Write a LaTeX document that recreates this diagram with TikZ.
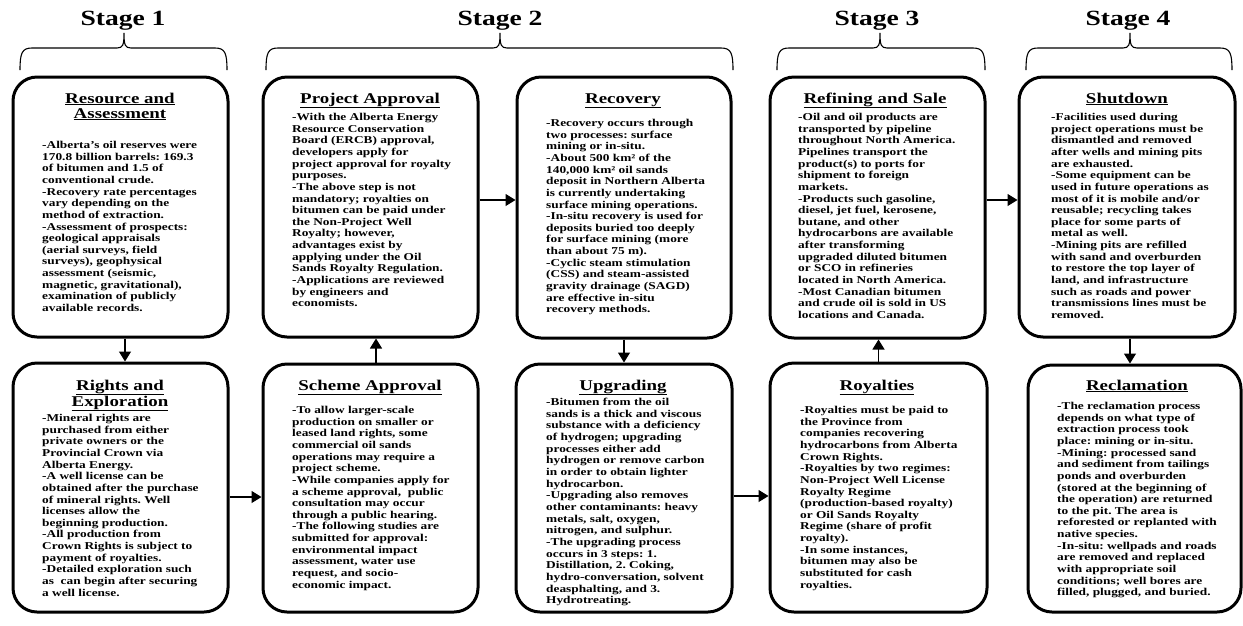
\documentclass[tikz,border=0pt]{standalone}
\usepackage{fontspec}
\setmainfont{Liberation Serif}[FakeStretch=1.27]
\usetikzlibrary{arrows.meta}
\frenchspacing
\tikzset{
 box/.style={draw, line width=3pt, rounded corners=24pt, inner sep=0pt, fill=white},
 ttl/.style={font=\fontsize{14.9}{15.5}\selectfont\bfseries, inner sep=0pt, anchor=base},
 body/.style={font=\fontsize{10.5}{11.65}\selectfont\bfseries\frenchspacing, align=left, inner sep=0pt, anchor=north west},
 stg/.style={font=\fontsize{21.7}{24}\selectfont\bfseries, inner sep=0pt, anchor=base},
 arr/.style={line width=1.2pt, -{Triangle[width=12pt,length=10pt]}},
 brc/.style={line width=1.1pt}
}
\newcommand\mybrace[3]{\draw[brc] (#1,70) .. controls (#1,53) and (#1+2,48) .. (#1+12,48) -- (#2-7,48) .. controls (#2-1,48) and (#2,45) .. (#2,33) .. controls (#2,45) and (#2+1,48) .. (#2+7,48) -- (#3-12,48) .. controls (#3-2,48) and (#3,53) .. (#3,70);}
\begin{document}
\begin{tikzpicture}[x=1pt,y=-1pt]
\useasboundingbox (0,0) rectangle (1243,625);
\fill[white] (0,0) rectangle (1243,625);
% stage labels and braces
\node[stg] (s1) at (123,25) {Stage 1};
\node[stg] (s2) at (500,25) {Stage 2};
\node[stg] (s3) at (877,25) {Stage 3};
\node[stg] (s4) at (1128,25) {Stage 4};
\mybrace{20}{124}{227}
\mybrace{266}{500}{733}
\mybrace{777}{880}{985}
\mybrace{1026}{1130}{1232}
% boxes
\node[box, minimum width=215pt, minimum height=260pt] (b1) at (120.5,207) {};
\node[box, minimum width=215pt, minimum height=249pt] (b2) at (120.5,487.5) {};
\node[box, minimum width=215pt, minimum height=260pt] (b3) at (370.5,207) {};
\node[box, minimum width=215pt, minimum height=248pt] (b4) at (370.5,488) {};
\node[box, minimum width=214pt, minimum height=261pt] (b5) at (624,207.5) {};
\node[box, minimum width=216pt, minimum height=248pt] (b6) at (624,488) {};
\node[box, minimum width=215pt, minimum height=261pt] (b7) at (877.5,207.5) {};
\node[box, minimum width=217pt, minimum height=249pt] (b8) at (878.5,487.5) {};
\node[box, minimum width=216pt, minimum height=260pt] (b9) at (1127,207) {};
\node[box, minimum width=213pt, minimum height=247pt] (b10) at (1134.5,488.5) {};
% titles
\node[ttl] (t1a) at (120,103) {\underline{Resource and}};
\node[ttl] (t1b) at (120,118) {\underline{Assessment}};
\node[ttl] (t2a) at (120,390) {\underline{Rights and}};
\node[ttl] (t2b) at (120,406) {\underline{Exploration}};
\node[ttl] (t3) at (370,103) {\underline{Project Approval}};
\node[ttl] (t4) at (370,390) {\underline{Scheme Approval}};
\node[ttl] (t5) at (623,103) {\underline{Recovery}};
\node[ttl] (t6) at (623,390) {\underline{Upgrading}};
\node[ttl] (t7) at (875,103) {\underline{Refining and Sale}};
\node[ttl] (t8) at (877,390) {\underline{Royalties}};
\node[ttl] (t9) at (1127,103) {\underline{Shutdown}};
\node[ttl] (t10) at (1137,390) {\underline{Reclamation}};
% bodies
\node[body] (d1) at (42,141) {-Alberta's oil reserves were\\170.8 billion barrels: 169.3\\of bitumen and 1.5 of\\conventional crude.\\-Recovery rate percentages\\vary depending on the\\method of extraction.\\-Assessment of prospects:\\geological appraisals\\(aerial surveys, field\\surveys), geophysical\\assessment (seismic,\\magnetic, gravitational),\\examination of publicly\\available records.};
\node[body] (d2) at (42,414) {-Mineral rights are\\purchased from either\\private owners or the\\Provincial Crown via\\Alberta Energy.\\-A well license can be\\obtained after the purchase\\of mineral rights. Well\\licenses allow the\\beginning production.\\-All production from\\Crown Rights is subject to\\payment of royalties.\\-Detailed exploration such\\as~ can begin after securing\\a well license.};
\node[body] (d3) at (292,113) {-With the Alberta Energy\\Resource Conservation\\Board (ERCB) approval,\\developers apply for\\project approval for royalty\\purposes.\\-The above step is not\\mandatory; royalties on\\bitumen can be paid under\\the Non-Project Well\\Royalty; however,\\advantages exist by\\applying under the Oil\\Sands Royalty Regulation.\\-Applications are reviewed\\by engineers and\\economists.};
\node[body] (d4) at (292,406) {-To allow larger-scale\\production on smaller or\\leased land rights, some\\commercial oil sands\\operations may require a\\project scheme.\\-While companies apply for\\a scheme approval,~ public\\consultation may occur\\through a public hearing.\\-The following studies are\\submitted for approval:\\environmental impact\\assessment, water use\\request, and socio-\\economic impact.};
\node[body] (d5) at (546,119) {-Recovery occurs through\\two processes: surface\\mining or in-situ.\\-About 500 km² of the\\140,000 km² oil sands\\deposit in Northern Alberta\\is currently undertaking\\surface mining operations.\\-In-situ recovery is used for\\deposits buried too deeply\\for surface mining (more\\than about 75 m).\\-Cyclic steam stimulation\\(CSS) and steam-assisted\\gravity drainage (SAGD)\\are effective in-situ\\recovery methods.};
\node[body] (d6) at (546,398) {-Bitumen from the oil\\sands is a thick and viscous\\substance with a deficiency\\of hydrogen; upgrading\\processes either add\\hydrogen or remove carbon\\in order to obtain lighter\\hydrocarbon.\\-Upgrading also removes\\other contaminants: heavy\\metals, salt, oxygen,\\nitrogen, and sulphur.\\-The upgrading process\\occurs in 3 steps: 1.\\Distillation, 2. Coking,\\hydro-conversation, solvent\\deasphalting, and 3.\\Hydrotreating.};
\node[body] (d7) at (798,113) {-Oil and oil products are\\transported by pipeline\\throughout North America.\\Pipelines transport the\\product(s) to ports for\\shipment to foreign\\markets.\\-Products such gasoline,\\diesel, jet fuel, kerosene,\\butane, and other\\hydrocarbons are available\\after transforming\\upgraded diluted bitumen\\or SCO in refineries\\located in North America.\\-Most Canadian bitumen\\and crude oil is sold in US\\locations and Canada.};
\node[body] (d8) at (800,406) {-Royalties must be paid to\\the Province from\\companies recovering\\hydrocarbons from Alberta\\Crown Rights.\\-Royalties by two regimes:\\Non-Project Well License\\Royalty Regime\\(production-based royalty)\\or Oil Sands Royalty\\Regime (share of profit\\royalty).\\-In some instances,\\bitumen may also be\\substituted for cash\\royalties.};
\node[body] (d9) at (1051,113) {-Facilities used during\\project operations must be\\dismantled and removed\\after wells and mining pits\\are exhausted.\\-Some equipment can be\\used in future operations as\\most of it is mobile and/or\\reusable; recycling takes\\place for some parts of\\metal as well.\\-Mining pits are refilled\\with sand and overburden\\to restore the top layer of\\land, and infrastructure\\such as roads and power\\transmissions lines must be\\removed.};
\node[body] (d10) at (1057,402) {-The reclamation process\\depends on what type of\\extraction process took\\place: mining or in-situ.\\-Mining: processed sand\\and sediment from tailings\\ponds and overburden\\(stored at the beginning of\\the operation) are returned\\to the pit. The area is\\reforested or replanted with\\native species.\\-In-situ: wellpads and roads\\are removed and replaced\\with appropriate soil\\conditions; well bores are\\filled, plugged, and buried.};
% connectors
\draw[arr] ([xshift=4.5pt]b1.south) -- ([xshift=4.5pt]b1.south |- b2.north);
\draw[arr] ([yshift=-9.5pt]b2.east) -- ([yshift=-9.5pt]b2.east -| b4.west);
\draw[arr] ([xshift=5.5pt]b4.north) -- ([xshift=5.5pt]b4.north |- b3.south);
\draw[arr] ([yshift=7pt]b3.east) -- ([yshift=7pt]b3.east -| b5.west);
\draw[arr] (b5.south) -- (b5.south |- b6.north);
\draw[arr] ([yshift=-8pt]b6.east) -- ([yshift=-8pt]b6.east -| b8.west);
\draw[arr] (b8.north) -- (b8.north |- b7.south);
\draw[arr] ([yshift=7.5pt]b7.east) -- ([yshift=7.5pt]b7.east -| b9.west);
\draw[arr] ([xshift=3pt]b9.south) -- ([xshift=3pt]b9.south |- b10.north);
\end{tikzpicture}
\end{document}
